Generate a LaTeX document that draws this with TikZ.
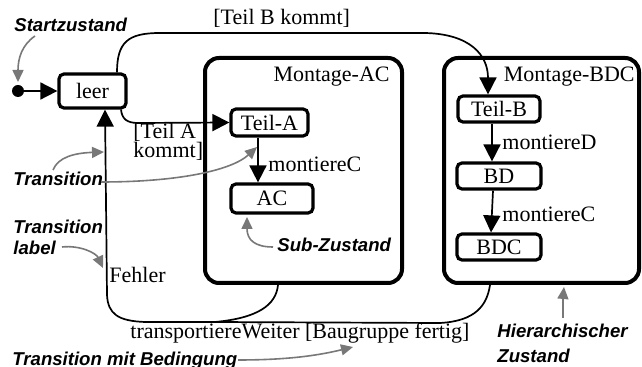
\documentclass[tikz,border=0pt]{standalone}
\usepackage{fontspec}
\setmainfont{Liberation Serif}
\setsansfont{Liberation Sans}
\usetikzlibrary{arrows.meta}
\definecolor{annogray}{RGB}{120,120,120}
\begin{document}
\begin{tikzpicture}[x=0.5pt,y=-0.5pt,
  every node/.style={inner sep=0pt, font=\fontsize{11}{12}\selectfont},
  stbox/.style={draw, line width=1.6pt, rounded corners=2.5pt},
  supbox/.style={draw, line width=2pt, rounded corners=7pt},
  trans/.style={line width=0.85pt, -{Triangle[length=8.5pt,width=8.5pt]}},
  tline/.style={line width=0.85pt},
  lbl/.style={font=\fontsize{9.3}{10}\selectfont\sffamily\bfseries\itshape},
  annarrow/.style={draw=annogray, line width=0.8pt, -{Triangle[length=6pt,width=5.5pt]}}
]
\useasboundingbox (0,0) rectangle (642,367);

% hierarchical states
\node[supbox, minimum width=98.5pt, minimum height=112.5pt] (MAC) at (303.5,170.5) {};
\node[supbox, minimum width=97.5pt, minimum height=112.5pt] (MBDC) at (541.5,170.5) {};
\node[anchor=base east] (tMAC) at (390,82) {Montage-AC};
\node[anchor=base east] (tMBDC) at (635,82) {Montage-BDC};

% states
\node[circle, fill, minimum size=6pt] (init) at (18,91) {};
\node[stbox, minimum width=33.5pt, minimum height=17pt] (leer) at (92.5,91) {leer};
\node[stbox, minimum width=38.5pt, minimum height=13.5pt] (TeilA) at (269.5,122.5) {Teil-A};
\node[stbox, minimum width=41pt, minimum height=14.5pt] (AC) at (272,198.5) {AC};
\node[stbox, minimum width=41pt, minimum height=13pt] (TeilB) at (499,109) {Teil-B};
\node[stbox, minimum width=42pt, minimum height=13pt] (BD) at (499,176) {BD};
\node[stbox, minimum width=42pt, minimum height=13pt] (BDC) at (499,247) {BDC};

% helper x positions
\coordinate (cLT) at (117,0);
\coordinate (cTB) at (488,0);
\coordinate (cLA) at (121,0);
\coordinate (cAC) at (258,0);
\coordinate (cBD) at (492,0);
\coordinate (cBD2) at (493,0);
\coordinate (cBD3) at (491,0);
\coordinate (cF1) at (278,0);
\coordinate (cF2) at (105,0);
\coordinate (cT1) at (490,0);

% transitions
\draw[trans] (init) -- (leer.west);
\draw[trans] (leer.north -| cLT) .. controls (117,42) and (128,33) .. (160,33)
  -- (425,33) .. controls (470,34) and (488,55) .. (TeilB.north -| cTB);
\draw[trans] (leer.south -| cLA) .. controls (122,119) and (127,123) .. (138,123) -- (TeilA.west);
\draw[trans] (TeilA.south -| cAC) -- (AC.north -| cAC);
\draw[trans] (TeilB.south -| cBD) -- (BD.north -| cBD);
\draw[trans] (BD.south -| cBD2) -- (BDC.north -| cBD3);
\draw[trans] (MAC.south -| cF1) .. controls (276,305) and (258,318) .. (215,322)
  -- (145,322) .. controls (118,321) and (108,314) .. (107,295) -- (leer.south -| cF2);
\draw[tline] (MBDC.south -| cT1) .. controls (487,305) and (476,321) .. (440,323) -- (215,322);

% transition labels
\node[anchor=base west] (lTB) at (213,25) {[Teil B kommt]};
\node[anchor=base west] (lTA1) at (133,139) {[Teil A};
\node[anchor=base west] (lTA2) at (133,158) {kommt]};
\node[anchor=base west] (lMC1) at (268,172) {montiereC};
\node[anchor=base west] (lMD) at (502,150) {montiereD};
\node[anchor=base west] (lMC2) at (502,222) {montiereC};
\node[anchor=base west] (lF) at (109,283) {Fehler};
\node[anchor=base west] (lTW) at (130,339) {transportiereWeiter [Baugruppe fertig]};

% annotation labels
\node[lbl, anchor=base west] (nStart) at (14,32) {Startzustand};
\node[lbl, anchor=base west] (nTr1) at (13,186) {Transition};
\node[lbl, anchor=base west] (nTr2) at (13,234) {Transition};
\node[lbl, anchor=base west] (nLab) at (13,255) {label};
\node[lbl, anchor=base west] (nSub) at (277,252) {Sub-Zustand};
\node[lbl, anchor=base west] (nH1) at (497,338) {Hierarchischer};
\node[lbl, anchor=base west] (nH2) at (497,363) {Zustand};
\node[lbl, anchor=base west] (nTB) at (12,366) {Transition mit Bedingung};

% annotation arrows
\coordinate (aS) at (18,82);
\coordinate (aT1) at (257,147);
\coordinate (aT2) at (104,152);
\coordinate (aL) at (103,268);
\coordinate (aSub) at (247,217);
\coordinate (aH) at (564,287);
\coordinate (aB) at (353,347);
\draw[annarrow] (35,36) .. controls (22,45) and (18,58) .. (aS);
\draw[annarrow] (101,182) .. controls (180,182) and (232,170) .. (aT1);
\draw[annarrow] (53,170) .. controls (58,157) and (75,153) .. (aT2);
\draw[annarrow] (62,247) .. controls (80,245) and (96,253) .. (aL);
\draw[annarrow] (273,247) .. controls (255,247) and (247,240) .. (aSub);
\draw[annarrow] (563,318) .. controls (563,305) and (563,298) .. (aH);
\draw[annarrow] (238,360) .. controls (290,360) and (320,355) .. (aB);
\end{tikzpicture}
\end{document}
